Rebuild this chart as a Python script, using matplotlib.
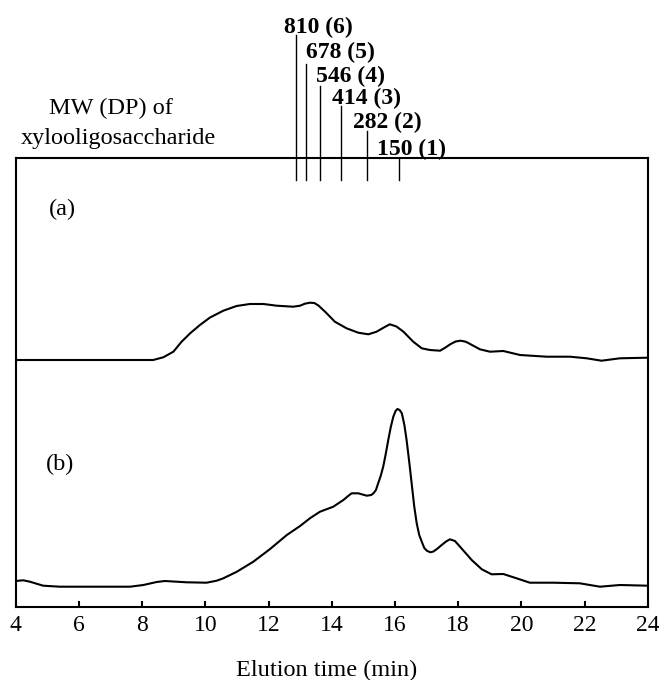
import matplotlib
matplotlib.use("Agg")
import matplotlib.pyplot as plt
import matplotlib.transforms as mtransforms

plt.rcParams['font.family'] = ['Liberation Serif', 'DejaVu Serif']

# ---- data (elution time in min, detector response in arbitrary units)
time_a = [4.0, 8.35, 8.67, 8.99, 9.25, 9.52, 9.83, 10.15, 10.57, 10.99, 11.41, 11.84, 12.26,
          12.78, 13.00, 13.15, 13.31, 13.45, 13.58, 13.79, 14.10, 14.47, 14.84, 15.16, 15.42,
          15.65, 15.84, 16.05, 16.27, 16.58, 16.85, 17.11, 17.43, 17.60, 17.75, 17.92, 18.08,
          18.24, 18.38, 18.69, 19.01, 19.43, 19.96, 20.80, 21.54, 22.07, 22.54, 23.12, 24.0]
resp_a = [247, 247, 249.7, 255.3, 265.3, 273.7, 282, 289.5, 296.3, 301, 303, 303, 301.3,
          300.3, 301.3, 303.3, 304.3, 304, 301.5, 295.3, 285.3, 278.7, 274.3, 272.7, 275.3,
          279.5, 282.7, 280.5, 275.3, 265.3, 258.7, 257, 256.3, 259.5, 262.7, 265.5, 266.3,
          265.3, 263, 257.7, 255.3, 256, 252, 250.3, 250.3, 248.7, 246.3, 248.7, 249.3]

time_b = [4.0, 4.24, 4.45, 4.87, 5.40, 7.62, 8.04, 8.46, 8.72, 9.41, 10.04, 10.36, 10.57,
          11.0, 11.52, 12.05, 12.58, 13.0, 13.31, 13.63, 14.05, 14.37, 14.52, 14.63, 14.84,
          15.11, 15.25, 15.32, 15.40, 15.47, 15.55, 15.63, 15.71, 15.79, 15.87, 15.95, 16.02,
          16.08, 16.15, 16.22, 16.30, 16.37, 16.45, 16.53, 16.61, 16.69, 16.77, 16.85, 16.93,
          17.01, 17.12, 17.22, 17.35, 17.48, 17.62, 17.74, 17.90, 18.06, 18.25, 18.43, 18.75,
          19.06, 19.43, 19.85, 20.27, 21.01, 21.85, 22.49, 23.12, 24.0]
resp_b = [26, 26.7, 25.3, 21.3, 20.3, 20.3, 22, 25, 26, 24.7, 24.3, 26.3, 28.7,
          35.3, 45.3, 58, 72, 81, 88.7, 95.3, 100.3, 107, 111, 113.7, 113.7,
          111.3, 112, 113.7, 117, 123.7, 131, 140.3, 153, 167, 180, 190.3, 196,
          198, 197, 193.7, 182, 167, 146, 123.7, 101, 83.7, 72, 65.3, 59,
          56.3, 54.7, 55.5, 58.5, 62, 65.5, 67.7, 66, 60.3, 53.5, 47, 37.7,
          32.7, 33, 28.7, 24.3, 24.3, 23.7, 20.3, 22, 21.3]

# xylooligosaccharide standards
mw = [810, 678, 546, 414, 282, 150]
dp = [6, 5, 4, 3, 2, 1]
std_time = [12.87, 13.18, 13.63, 14.28, 15.13, 16.13]
xticks = [4, 6, 8, 10, 12, 14, 16, 18, 20, 22, 24]

# ---- layout (axes fractions for annotations)
line_top = [1.2748, 1.2102, 1.1611, 1.1166, 1.0609, 1.0]
line_bottom = 0.9516
label_x = [12.49, 13.19, 13.49, 14.0, 14.68, 15.44]
label_y = [1.2792, 1.2229, 1.1707, 1.121, 1.0669, 1.0072]

fig = plt.figure(figsize=(6.59, 6.80), dpi=100)
ax = fig.add_axes([15.7 / 659, (680 - 607) / 680, 632 / 659, 448.7 / 680])

ax.plot(time_a, resp_a, color='black', lw=1.5, solid_joinstyle='round')
ax.plot(time_b, resp_b, color='black', lw=1.5, solid_joinstyle='round')

ax.set_xlim(4, 24)
ax.set_ylim(0, 448.7)
ax.set_xticks(xticks)
ax.set_yticks([])
ax.tick_params(axis='x', direction='in', length=4.5, width=1.5, labelsize=17, pad=5.5)
for s in ax.spines.values():
    s.set_linewidth(1.5)

trans = mtransforms.blended_transform_factory(ax.transData, ax.transAxes)
for t, top, lx, ly, m, d in zip(std_time, line_top, label_x, label_y, mw, dp):
    ax.plot([t, t], [line_bottom, top], color='black', lw=1.0, transform=trans, clip_on=False)
    ax.text(lx, ly, f"{m} ({d})", transform=trans, ha='left', va='baseline',
            fontsize=17, fontweight='bold')

fig.text(49.3 / 659, (680 - 114) / 680, "MW (DP) of", ha='left', va='baseline', fontsize=17.5)
fig.text(20.7 / 659, (680 - 144) / 680, "xylooligosaccharide", ha='left', va='baseline', fontsize=17.5)

ax.text(0.0532, 0.8736, "(a)", transform=ax.transAxes, ha='left', va='baseline', fontsize=17.5)
ax.text(0.0475, 0.3053, "(b)", transform=ax.transAxes, ha='left', va='baseline', fontsize=17.5)

fig.text(327 / 659, (680 - 676) / 680, "Elution time (min)", ha='center', va='baseline', fontsize=17.5)

fig.savefig("out.png", dpi=100)
